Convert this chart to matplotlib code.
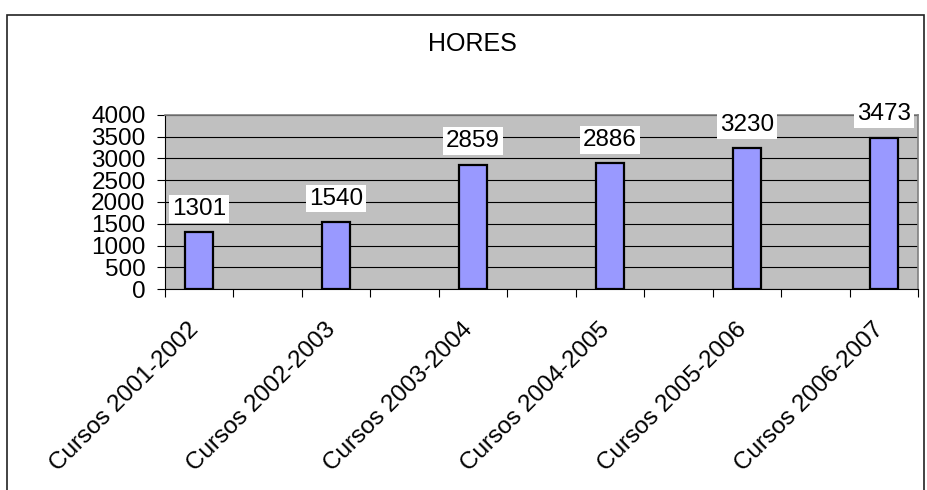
import matplotlib
matplotlib.use("Agg")
import matplotlib.pyplot as plt
from matplotlib.patches import Rectangle
import matplotlib.transforms as mtransforms
import numpy as np

plt.rcParams['font.family'] = ['Liberation Sans', 'DejaVu Sans']

cursos = ["Cursos 2001-2002", "Cursos 2002-2003", "Cursos 2003-2004",
          "Cursos 2004-2005", "Cursos 2005-2006", "Cursos 2006-2007"]
hores = [1301, 1540, 2859, 2886, 3230, 3473]
yticks = [0, 500, 1000, 1500, 2000, 2500, 3000, 3500, 4000]

# the Excel sheet has an empty category between each course
pos = np.arange(len(cursos)) * 2

fig = plt.figure(figsize=(9.27, 4.9), dpi=100)
fig.patches.append(Rectangle((7 / 927, -0.02), 917 / 927, 1 - 15 / 490 + 0.02,
                             transform=fig.transFigure, fill=False,
                             edgecolor='#222222', linewidth=1.2))

ax = fig.add_axes([165 / 927, 1 - 289 / 490, 753 / 927, 174 / 490])
ax.set_facecolor('#C0C0C0')
ax.bar(pos, hores, width=0.41, color='#9999FF', edgecolor='black',
       linewidth=1.6, zorder=3)

ax.set_xlim(-0.5, pos[-1] + 0.5)
ax.set_ylim(0, 4000)
ax.set_yticks(yticks)
ax.yaxis.grid(True, color='black', linewidth=0.8, zorder=1)
ax.set_axisbelow(True)

ax.set_xticks(np.arange(-0.5, pos[-1] + 1, 1), minor=True)
ax.set_xticks(pos)
ax.set_xticklabels(cursos, rotation=45, ha='right', va='center',
                   rotation_mode='anchor', fontsize=17.5)
ax.tick_params(axis='x', which='major', length=0, pad=27)
ax.tick_params(axis='x', which='minor', length=6, width=0.8, color='black')
ax.tick_params(axis='y', length=6, width=0.8, color='black', pad=8,
               labelsize=17.5)

shift = mtransforms.ScaledTranslation(-4 / 100, 0, fig.dpi_scale_trans)
for lab in ax.get_xticklabels():
    lab.set_transform(lab.get_transform() + shift)

for s in ['top', 'right']:
    ax.spines[s].set_color('#808080')
    ax.spines[s].set_linewidth(1.2)
for s in ['left', 'bottom']:
    ax.spines[s].set_color('black')
    ax.spines[s].set_linewidth(0.8)

for x, v in zip(pos, hores):
    ax.annotate(str(v), (x, v), xytext=(0, 9), textcoords='offset points',
                ha='center', va='bottom', fontsize=17.5, zorder=5,
                bbox=dict(boxstyle='square,pad=0.12', fc='white', ec='none'),
                annotation_clip=False)

fig.text(472 / 927, 1 - 44 / 490, "HORES", ha='center', va='center',
         fontsize=18)

fig.savefig("out.png", dpi=100)
